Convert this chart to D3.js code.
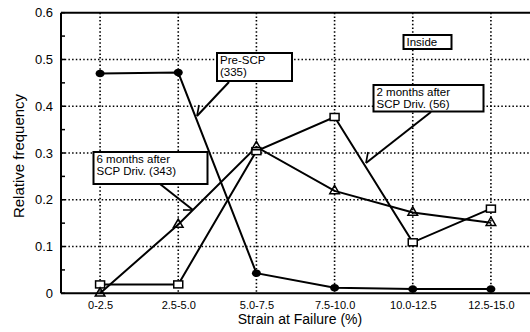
<!DOCTYPE html>
<html>
<head>
<meta charset="utf-8">
<script src="https://cdn.jsdelivr.net/npm/d3@7"></script>
<style>
  html, body { margin: 0; padding: 0; background: #fff; }
  svg { display: block; font-family: "Liberation Sans", Arial, sans-serif; }
</style>
</head>
<body>
<svg id="chart" width="530" height="332"></svg>
<script>
// Strain-at-failure bins
const categories = ["0-2.5", "2.5-5.0", "5.0-7.5", "7.5-10.0", "10.0-12.5", "12.5-15.0"];
// Relative frequency per bin
const preScp = [0.470, 0.472, 0.043, 0.012, 0.009, 0.009];
const twoMonths = [0.019, 0.019, 0.304, 0.377, 0.109, 0.181];
const sixMonths = [0.000, 0.147, 0.313, 0.219, 0.173, 0.151];
const yTicks = [0, 0.1, 0.2, 0.3, 0.4, 0.5, 0.6];
const yMinorTicks = [0.05, 0.15, 0.25, 0.35, 0.45, 0.55];

const svg = d3.select("#chart");
const W = 530, H = 332;
const m = { left: 61, top: 12.7, right: 0, bottom: 38.7 };
const iw = W - m.left - m.right, ih = H - m.top - m.bottom;

const x = d3.scalePoint().domain(categories).range([m.left, m.left + iw]).padding(0.5);
const y = d3.scaleLinear().domain([0, 0.6]).range([m.top + ih, m.top]);

// dotted grid
const grid = svg.append("g").attr("stroke", "#000").attr("stroke-width", 1.6)
  .attr("stroke-dasharray", "1.5,2.2");
grid.selectAll("line.h").data(yTicks.filter(d => d > 0 && d < 0.6)).join("line")
  .attr("x1", m.left).attr("x2", m.left + iw)
  .attr("y1", d => y(d)).attr("y2", d => y(d));
grid.selectAll("line.v").data(categories).join("line")
  .attr("x1", d => x(d)).attr("x2", d => x(d))
  .attr("y1", m.top).attr("y2", m.top + ih);

// y axis
const yAxis = d3.axisLeft(y).tickValues(yTicks).tickSize(0).tickPadding(8)
  .tickFormat(d => d === 0 ? "0" : d3.format(".1f")(d));
const gy = svg.append("g").attr("transform", `translate(${m.left},0)`).call(yAxis);
gy.select(".domain").remove();
gy.selectAll("text").attr("font-size", 13).attr("font-family", "Liberation Sans, Arial, sans-serif").attr("fill", "#000");

// inward minor ticks on the y axis
svg.append("g").selectAll("line").data(yMinorTicks.concat(yTicks)).join("line")
  .attr("x1", m.left).attr("x2", m.left + 4)
  .attr("y1", d => y(d)).attr("y2", d => y(d))
  .attr("stroke", "#000").attr("stroke-width", 1.5);

// x axis labels
const xAxis = d3.axisBottom(x).tickSize(0).tickPadding(8);
const gx = svg.append("g").attr("transform", `translate(0,${m.top + ih})`).call(xAxis);
gx.select(".domain").remove();
gx.selectAll("text").attr("font-size", 11).attr("font-family", "Liberation Sans, Arial, sans-serif").attr("fill", "#000");

// frame: left axis, bottom axis, top border
const frame = svg.append("g").attr("stroke", "#000").attr("stroke-width", 2);
frame.append("line").attr("x1", m.left).attr("x2", m.left).attr("y1", m.top).attr("y2", m.top + ih);
frame.append("line").attr("x1", m.left).attr("x2", m.left + iw).attr("y1", m.top + ih).attr("y2", m.top + ih);
frame.append("line").attr("x1", m.left).attr("x2", m.left + iw).attr("y1", m.top).attr("y2", m.top);

// axis titles
svg.append("text").attr("x", 300).attr("y", 324)
  .attr("text-anchor", "middle").attr("font-size", 14).text("Strain at Failure (%)");
svg.append("text").attr("transform", `translate(24,156) rotate(-90)`)
  .attr("text-anchor", "middle").attr("font-size", 15).text("Relative frequency");

// series lines
const line = d3.line().x((d, i) => x(categories[i])).y(d => y(d));
[preScp, twoMonths, sixMonths].forEach(s => {
  svg.append("path").datum(s).attr("d", line)
    .attr("fill", "none").attr("stroke", "#000").attr("stroke-width", 2);
});

// markers
svg.append("g").selectAll("ellipse").data(preScp).join("ellipse")
  .attr("cx", (d, i) => x(categories[i])).attr("cy", d => y(d))
  .attr("rx", 4.5).attr("ry", 3.8).attr("fill", "#000");
svg.append("g").selectAll("rect").data(twoMonths).join("rect")
  .attr("x", (d, i) => x(categories[i]) - 4.5).attr("y", d => y(d) - 3.5)
  .attr("width", 9).attr("height", 7)
  .attr("fill", "#fff").attr("stroke", "#000").attr("stroke-width", 1.5);
const tri = d3.symbol().type(d3.symbolTriangle).size(40);
svg.append("g").selectAll("path").data(sixMonths).join("path")
  .attr("transform", (d, i) => `translate(${x(categories[i])},${y(d)})`)
  .attr("d", tri()).attr("fill", "none").attr("stroke", "#000").attr("stroke-width", 1.5);

// annotation boxes with leader lines
function note(bx, by, bw, bh, lines, leader, barb) {
  const g = svg.append("g");
  g.append("rect").attr("x", bx).attr("y", by).attr("width", bw).attr("height", bh)
    .attr("fill", "#fff").attr("stroke", "#000").attr("stroke-width", 2);
  lines.forEach((t, i) => {
    g.append("text").attr("x", bx + 3).attr("y", by + 11 + i * 12)
      .attr("font-size", 11.5).text(t);
  });
  if (leader) {
    g.append("line").attr("x1", leader[0]).attr("y1", leader[1])
      .attr("x2", leader[2]).attr("y2", leader[3])
      .attr("stroke", "#000").attr("stroke-width", 2);
    g.append("line").attr("x1", leader[2]).attr("y1", leader[3])
      .attr("x2", barb[0]).attr("y2", barb[1])
      .attr("stroke", "#000").attr("stroke-width", 1.6);
  }
}
note(217, 53, 75, 28, ["Pre-SCP", "(335)"], [229, 82, 197, 116], [199, 105]);
note(403.5, 35, 48, 14, ["Inside"], null, null);
note(373.5, 85, 110, 26.5, ["2 months after", "SCP Driv. (56)"], [431, 112, 366, 163], [368, 152]);
note(93.5, 152, 114, 32, ["6 months after", "SCP Driv. (343)"], [160, 184, 193, 210], [183, 210]);
</script>
</body>
</html>
